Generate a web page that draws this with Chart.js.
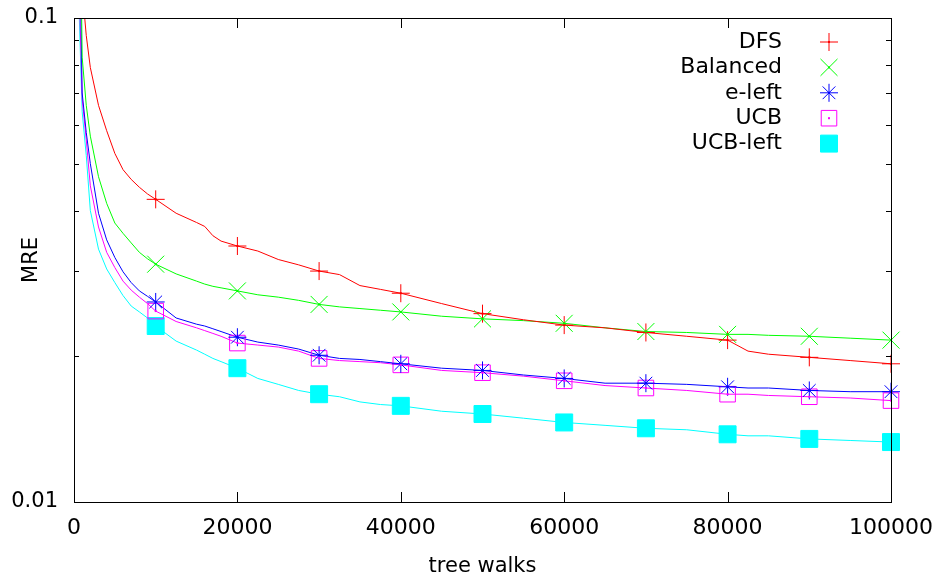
<!DOCTYPE html>
<html>
<head>
<meta charset="utf-8">
<script src="https://cdn.jsdelivr.net/npm/chart.js@4.4.1/dist/chart.umd.min.js"></script>
<style>
  html, body { margin: 0; padding: 0; background: #fff; }
</style>
</head>
<body>
<canvas id="mre" width="935" height="578"></canvas>
<script>
// tree walks at which the curves were read
const walks = [500, 1000, 1500, 2000, 3000, 4000, 5000, 6000, 7000, 8000, 9000, 10000,
  12500, 15000, 16000, 17000, 18000, 20000, 22500, 25000, 27500, 30000, 32500, 35000, 37500,
  40000, 45000, 50000, 55000, 60000, 65000, 70000, 75000, 80000, 82500, 85000, 90000, 95000, 100000];

const dfs = [0.2, 0.115, 0.092, 0.079, 0.0660, 0.0585, 0.0525, 0.0486, 0.0464, 0.0447, 0.0433, 0.0422,
  0.0395, 0.0378, 0.0371, 0.0355, 0.0346, 0.0338, 0.0330, 0.0317, 0.0309, 0.0300, 0.0295, 0.0280, 0.0275,
  0.0270, 0.0257, 0.0245, 0.0238, 0.0232, 0.0229, 0.0224, 0.0220, 0.0216, 0.0205, 0.0202, 0.0199, 0.0196, 0.0193];

const balanced = [0.39, 0.083, 0.066, 0.057, 0.0470, 0.0414, 0.0377, 0.0359, 0.0343, 0.0328, 0.0318, 0.0310,
  0.0296, 0.0286, 0.0282, 0.0279, 0.0277, 0.0273, 0.0268, 0.0265, 0.0261, 0.0256, 0.0253, 0.0251, 0.0249,
  0.0247, 0.0242, 0.0239, 0.0237, 0.0234, 0.0229, 0.0225, 0.0224, 0.0222, 0.0222, 0.0221, 0.0220, 0.0218, 0.0216];

const eLeft = [0.23, 0.070, 0.058, 0.050, 0.0395, 0.0348, 0.0320, 0.0299, 0.0284, 0.0273, 0.0266, 0.0259,
  0.0240, 0.0233, 0.0231, 0.0228, 0.0225, 0.0219, 0.0214, 0.0211, 0.0207, 0.0201, 0.0198, 0.0197, 0.0195,
  0.0193, 0.0189, 0.0187, 0.0183, 0.0180, 0.0176, 0.0176, 0.0175, 0.0173, 0.0172, 0.0172, 0.0170, 0.0169, 0.0169];

const ucb = [0.139, 0.068, 0.056, 0.045, 0.0370, 0.0328, 0.0305, 0.0286, 0.0274, 0.0265, 0.0257, 0.0248,
  0.0236, 0.0229, 0.0226, 0.0223, 0.0220, 0.0213, 0.0211, 0.0209, 0.0205, 0.0198, 0.0196, 0.0195, 0.0194,
  0.0192, 0.0187, 0.0185, 0.0182, 0.0178, 0.0174, 0.0172, 0.0170, 0.0167, 0.0167, 0.0166, 0.0165, 0.0164, 0.0162];

const ucbLeft = [0.121, 0.064, 0.052, 0.0400, 0.0333, 0.0303, 0.0284, 0.0267, 0.0254, 0.0247, 0.0240, 0.0231,
  0.0215, 0.0206, 0.0202, 0.0198, 0.0195, 0.0189, 0.0180, 0.0175, 0.0170, 0.0167, 0.0165, 0.0161, 0.0159,
  0.0158, 0.0154, 0.0152, 0.0149, 0.0146, 0.0144, 0.0142, 0.0141, 0.0138, 0.0137, 0.0137, 0.0135, 0.0134, 0.0133];

const xTicks = [0, 20000, 40000, 60000, 80000, 100000];
const yTicks = [0.01, 0.1];
const yMinorTicks = [0.02, 0.03, 0.04, 0.05, 0.06, 0.07, 0.08, 0.09];
const markerEvery = 10000;

const FONT = '"DejaVu Sans", "Liberation Sans", sans-serif';

const series = [
  { label: 'DFS',      values: dfs,      color: '#ff0000', style: 'cross',    radius: 9,  fill: 'rgba(0,0,0,0)' },
  { label: 'Balanced', values: balanced, color: '#00ff00', style: 'crossRot', radius: 12, fill: 'rgba(0,0,0,0)' },
  { label: 'e-left',   values: eLeft,    color: '#0000ff', style: 'star',     radius: 9,  fill: 'rgba(0,0,0,0)' },
  { label: 'UCB',      values: ucb,      color: '#ff00ff', style: 'rect',     radius: 11, fill: 'rgba(0,0,0,0)' },
  { label: 'UCB-left', values: ucbLeft,  color: '#00ffff', style: 'rect',     radius: 12, fill: '#00ffff' }
];

var datasets = [];
series.forEach(function(s) {
  var pts = walks.map(function(w, i) { return { x: w, y: s.values[i] }; });
  // the curve itself
  datasets.push({
    label: s.label + ' line',
    data: pts,
    borderColor: s.color,
    borderWidth: 1,
    pointRadius: 0,
    tension: 0,
    fill: false,
    order: 2
  });
  // markers every 10000 walks
  datasets.push({
    label: s.label,
    data: pts.filter(function(p) { return p.x % markerEvery === 0; }),
    showLine: false,
    pointStyle: s.style,
    pointRadius: s.radius,
    pointBorderWidth: 1,
    pointBorderColor: s.color,
    pointBackgroundColor: s.fill,
    clip: false,
    order: 1
  });
});

// gnuplot style frame with inward ticks, and small dots at marker centers
const framePlugin = {
  id: 'frame',
  afterDatasetsDraw(chart) {
    const ctx = chart.ctx;
    chart.data.datasets.forEach(function(ds, i) {
      if (ds.showLine !== false) return;
      chart.getDatasetMeta(i).data.forEach(function(pt) {
        ctx.fillStyle = ds.pointBorderColor;
        ctx.fillRect(pt.x - 1, pt.y - 1, 2, 2);
      });
    });
  },
  afterDraw(chart) {
    const ctx = chart.ctx;
    const a = chart.chartArea;
    const xs = chart.scales.x, ys = chart.scales.y;
    ctx.save();
    ctx.strokeStyle = '#000';
    ctx.lineWidth = 1;
    ctx.beginPath();
    xTicks.forEach(function(v) {
      const px = Math.round(xs.getPixelForValue(v)) + 0.5;
      ctx.moveTo(px, a.bottom); ctx.lineTo(px, a.bottom - 10);
      ctx.moveTo(px, a.top); ctx.lineTo(px, a.top + 10);
    });
    yMinorTicks.forEach(function(v) {
      const py = Math.round(ys.getPixelForValue(v)) + 0.5;
      ctx.moveTo(a.left, py); ctx.lineTo(a.left + 5, py);
      ctx.moveTo(a.right, py); ctx.lineTo(a.right - 5, py);
    });
    yTicks.forEach(function(v) {
      const py = Math.round(ys.getPixelForValue(v)) + 0.5;
      ctx.moveTo(a.left, py); ctx.lineTo(a.left + 10, py);
      ctx.moveTo(a.right, py); ctx.lineTo(a.right - 10, py);
    });
    ctx.stroke();
    ctx.strokeRect(Math.round(a.left) + 0.5, Math.round(a.top) + 0.5,
      Math.round(a.right - a.left), Math.round(a.bottom - a.top));

    // key: text right aligned, sample marker to the right
    ctx.font = '22px ' + FONT;
    ctx.textAlign = 'right';
    ctx.textBaseline = 'middle';
    series.forEach(function(s, i) {
      const y = 42 + i * 25.4;
      ctx.fillStyle = '#000';
      ctx.fillText(s.label, 782, y);
      ctx.strokeStyle = s.color;
      ctx.fillStyle = s.fill;
      ctx.lineWidth = 1;
      Chart.helpers.drawPoint(ctx, { pointStyle: s.style, radius: s.radius, borderWidth: 1, rotation: 0 }, 829, y);
      ctx.fillStyle = s.color;
      ctx.fillRect(828, y - 1, 2, 2);
    });
    ctx.restore();
  }
};

new Chart(document.getElementById('mre'), {
  type: 'line',
  data: { datasets: datasets },
  options: {
    responsive: false,
    animation: false,
    layout: { padding: { left: 0, top: 18, right: 44, bottom: 0 } },
    plugins: { legend: { display: false }, tooltip: { enabled: false } },
    scales: {
      x: {
        type: 'linear',
        min: 0,
        max: 100000,
        grid: { display: false, drawTicks: false },
        border: { display: false },
        afterBuildTicks: function(scale) { scale.ticks = xTicks.map(function(v) { return { value: v }; }); },
        afterFit: function(scale) {
          scale.height = 76;
          scale.paddingLeft = 0;
          scale.paddingRight = 0;
        },
        ticks: {
          color: '#000',
          font: { family: FONT, size: 22 },
          padding: 13,
          maxRotation: 0,
          callback: function(v) { return String(v); }
        },
        title: {
          display: true,
          text: 'tree walks',
          color: '#000',
          font: { family: FONT, size: 21, lineHeight: 1.05 },
          padding: { top: 0, bottom: 0 }
        }
      },
      y: {
        type: 'logarithmic',
        min: 0.01,
        max: 0.1,
        grid: { display: false, drawTicks: false },
        border: { display: false },
        afterBuildTicks: function(scale) { scale.ticks = yTicks.map(function(v) { return { value: v }; }); },
        afterFit: function(scale) {
          scale.width = 74;
          scale.paddingTop = 0;
          scale.paddingBottom = 0;
        },
        ticks: {
          color: '#000',
          font: { family: FONT, size: 21 },
          padding: 16,
          callback: function(v) { return String(v); }
        },
        title: {
          display: true,
          text: 'MRE',
          color: '#000',
          font: { family: FONT, size: 21 },
          padding: { top: 19, bottom: 0 }
        }
      }
    }
  },
  plugins: [framePlugin]
});
</script>
</body>
</html>
